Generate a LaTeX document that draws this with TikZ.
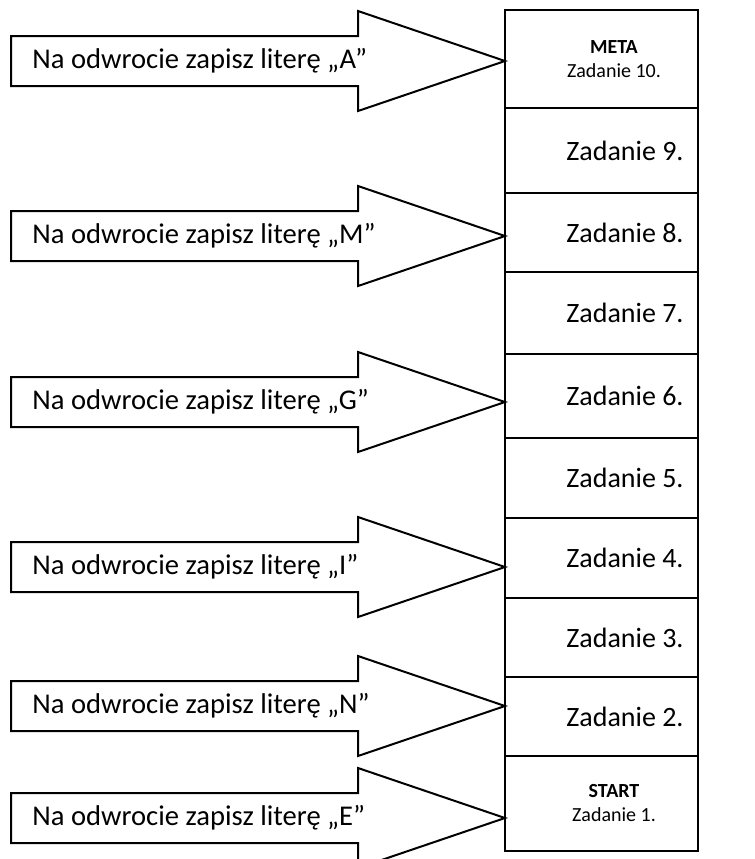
\documentclass[tikz,border=0pt]{standalone}
\usepackage{fontspec}
\setmainfont{Carlito}
\usepackage{tikz}

\tikzset{
  sign/.style={line width=1pt, line join=miter},
  taskbox/.style={line width=1pt},
  tasklabel/.style={inner sep=0pt, font=\fontsize{14}{17}\selectfont},
  smalllabel/.style={inner sep=0pt, align=center, font=\fontsize{10}{12}\selectfont},
  signlabel/.style={anchor=west, inner sep=0pt, font=\fontsize{14.3}{17}\selectfont}
}

\begin{document}
\begin{tikzpicture}[x=0.5pt, y=-0.5pt]
    \useasboundingbox (0,0) rectangle (755,859);

    % arrows with the letters
    \foreach \l/\y in {A/61,M/236,G/402,I/567,N/706,E/818} {
        \draw[sign] (11,\y-25) -- (358,\y-25) -- (358,\y-50) -- (505,\y)
          -- (358,\y+50) -- (358,\y+25) -- (11,\y+25) -- cycle;
        \node[signlabel] (sign\l) at (32,\y) {Na odwrocie zapisz literę „\l”};
      }

    % task boxes, top to bottom
    \foreach \n/\a/\b in {10/10/108,9/108/193,8/193/272,7/272/354,6/354/438,
                          5/438/518,4/518/598,3/598/677,2/677/756,1/756/851} {
        \draw[taskbox] (505,\a) rectangle (698,\b);
        \coordinate (mid\n) at (625,{(\a+\b)/2});
      }
    \foreach \n in {2,...,9} {
        \node[tasklabel] (task\n) at (mid\n) {Zadanie \n.};
      }
    \node[smalllabel] (task10) at ([xshift=-5.5pt]mid10) {\textbf{META}\\Zadanie 10.};
    \node[smalllabel] (task1) at ([xshift=-5.5pt]mid1) {\textbf{START}\\Zadanie 1.};
  \end{tikzpicture}
\end{document}
